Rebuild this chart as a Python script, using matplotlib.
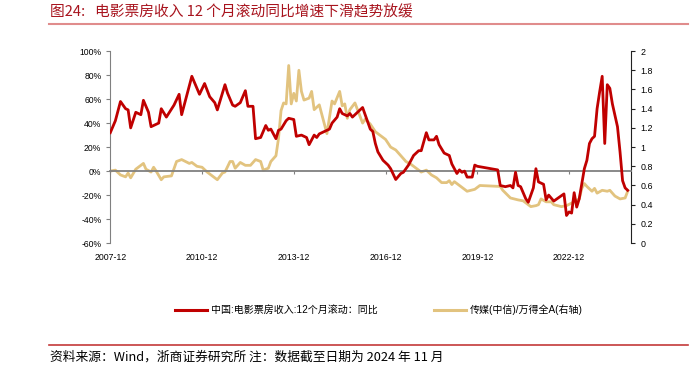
import matplotlib
matplotlib.use("Agg")
import matplotlib.pyplot as plt
from matplotlib.lines import Line2D

plt.rcParams['font.family'] = ['Liberation Sans', 'Noto Sans CJK SC', 'DejaVu Sans']

# month index counted from 2007-12
tick_months = [0, 36, 72, 108, 144, 180]
tick_labels = ['2007-12', '2010-12', '2013-12', '2016-12', '2019-12', '2022-12']

# box office, rolling 12m yoy (%), left axis
red_month = [0, 2, 4, 6, 7, 8, 10, 12, 13, 15,
             16, 18, 19, 20, 22, 25, 27, 28, 30, 32,
             34, 35, 37, 39, 41, 42, 45, 46, 48, 49,
             51, 53, 54, 56, 57, 59, 61, 62, 63, 65,
             66, 67, 69, 70, 72, 73, 75, 77, 78, 80,
             81, 82, 84, 86, 87, 89, 90, 91, 93, 94,
             95, 97, 99, 100, 102, 103, 104, 105, 107, 109,
             110, 112, 114, 115, 117, 119, 121, 122, 124, 125,
             127, 128, 129, 131, 133, 134, 136, 137, 138, 139,
             140, 142, 143, 144, 152, 153, 155, 157, 158, 159,
             160, 161, 163, 164, 166, 167, 168, 170, 171, 172,
             174, 176, 178, 179, 180, 181, 182, 183, 184, 186,
             187, 188, 189, 190, 191, 192, 193, 194, 195, 196,
             197, 199, 200, 201, 202, 203]
red_yoy = [32, 42, 58, 52, 51, 36, 49, 47, 59, 49,
           37, 39, 40, 52, 45, 55, 64, 47, 63, 79,
           69, 64, 73, 62, 57, 51, 72, 65, 55, 54,
           57, 67, 54, 54, 27, 28, 38, 34, 35, 27,
           34, 35, 42, 44, 43, 29, 30, 28, 22, 30,
           28, 31, 33, 35, 40, 45, 52, 48, 46, 48,
           45, 49, 53, 47, 35, 33, 23, 16, 9, 5,
           2, -7, -2, -1, 5, 13, 17, 17, 32, 26,
           26, 29, 22, 15, 13, 6, -2, 1, -1, 0,
           -5, -5, 5, 4, 1, -12, -13, -12, -14, -1,
           -12, -13, -23, -26, -14, 2, -9, -11, -24, -20,
           -25, -22, -19, -37, -34, -35, -18, -30, -23, 2,
           9, 23, 27, 29, 52, 66, 79, 23, 72, 69,
           56, 37, 16, -8, -14, -16]

# media (CITIC) / Wind All A, right axis
gold_month = [0, 2, 4, 6, 7, 8, 10, 13, 14, 16,
              17, 18, 20, 21, 24, 26, 28, 31, 32, 34,
              36, 38, 40, 42, 44, 45, 47, 48, 49, 51,
              53, 55, 57, 59, 60, 62, 63, 65, 66, 67,
              68, 69, 70, 71, 72, 73, 74, 75, 76, 78,
              79, 80, 82, 83, 85, 86, 87, 88, 90, 91,
              92, 93, 94, 96, 97, 99, 100, 102, 104, 105,
              108, 110, 112, 114, 116, 118, 120, 122, 124, 126,
              128, 130, 132, 133, 134, 135, 137, 139, 140, 143,
              145, 153, 154, 157, 160, 162, 165, 167, 168, 169,
              171, 173, 174, 177, 179, 182, 184, 185, 186, 187,
              189, 190, 191, 193, 195, 196, 198, 200, 202, 203]
gold_ratio = [0.75, 0.76, 0.71, 0.69, 0.73, 0.68, 0.77, 0.83, 0.77, 0.74,
              0.79, 0.75, 0.66, 0.69, 0.70, 0.85, 0.87, 0.83, 0.84, 0.80,
              0.79, 0.74, 0.70, 0.66, 0.73, 0.74, 0.85, 0.85, 0.78, 0.84,
              0.81, 0.81, 0.87, 0.85, 0.76, 0.78, 0.85, 0.91, 1.09, 1.38,
              1.46, 1.45, 1.85, 1.45, 1.56, 1.48, 1.80, 1.58, 1.49, 1.51,
              1.58, 1.39, 1.44, 1.34, 1.14, 1.31, 1.48, 1.45, 1.58, 1.43,
              1.45, 1.30, 1.39, 1.46, 1.39, 1.25, 1.29, 1.24, 1.16, 1.14,
              1.08, 1.00, 0.97, 0.91, 0.85, 0.82, 0.78, 0.74, 0.76, 0.71,
              0.68, 0.63, 0.63, 0.65, 0.61, 0.64, 0.60, 0.56, 0.54, 0.56,
              0.60, 0.59, 0.55, 0.47, 0.45, 0.44, 0.38, 0.39, 0.40, 0.46,
              0.43, 0.43, 0.40, 0.38, 0.39, 0.43, 0.46, 0.57, 0.62, 0.59,
              0.54, 0.57, 0.52, 0.55, 0.54, 0.55, 0.49, 0.46, 0.47, 0.54]

RED = '#C00000'
GOLD = '#E2C37F'

fig = plt.figure(figsize=(6.98, 3.65), dpi=100)
ax = fig.add_axes([0.158, 0.334, 0.746, 0.526])
ax2 = ax.twinx()

ax.plot(red_month, red_yoy, c=RED, lw=2.0, zorder=3)
ax2.plot(gold_month, gold_ratio, c=GOLD, lw=2.0)
ax.set_zorder(ax2.get_zorder() + 1)
ax.patch.set_visible(False)

ax.set_xlim(0, 204.3)
ax.set_ylim(-60, 100)
ax.set_yticks(range(-60, 101, 20))
ax.set_yticklabels([f'{v}%' for v in range(-60, 101, 20)])
ax2.set_ylim(0, 2)
ax2.set_yticks([i / 5 for i in range(11)])
ax2.set_yticklabels([f'{i / 5:g}' for i in range(11)])

# x axis line sits at 0%, labels stay at the bottom
ax.spines['bottom'].set_position(('data', 0))
ax.spines['bottom'].set_color('#808080')
ax.spines['bottom'].set_linewidth(1.3)
ax.set_xticks(tick_months)
ax.set_xticklabels(tick_labels)
ax.tick_params(axis='x', length=2, color='#808080', labelsize=6.3, pad=57)
ax.tick_params(axis='y', length=3, color='#808080', labelsize=6.2)
ax.spines['left'].set_color('#808080')
for s in ['top', 'right']:
    ax.spines[s].set_visible(False)
for s in ['top', 'left', 'bottom']:
    ax2.spines[s].set_visible(False)
ax2.spines['right'].set_color('#222222')
ax2.tick_params(axis='y', length=3, color='#222222', labelsize=6.4, pad=4)

handles = [Line2D([], [], c=RED, lw=2.2), Line2D([], [], c=GOLD, lw=2.2)]
labels = ['中国:电影票房收入:12个月滚动：同比', '传媒(中信)/万得全A(右轴)']
fig.legend(handles, labels, loc='center', bbox_to_anchor=(0.543, 0.151), ncol=2,
           frameon=False, fontsize=7.2, handlelength=3.2, columnspacing=5.6,
           handletextpad=0.4)

fig.text(0.072, 0.967, '图24:   电影票房收入 12 个月滚动同比增速下滑趋势放缓',
         color='#A8141E', fontsize=10.6, va='center', ha='left',
         family=['Noto Sans CJK SC', 'DejaVu Sans'])
fig.add_artist(Line2D([0.07, 0.985], [0.934, 0.934], color='#E08C8C', lw=1.5,
                      transform=fig.transFigure))
fig.add_artist(Line2D([0.07, 0.985], [0.055, 0.055], color='#C43A3A', lw=1.2,
                      transform=fig.transFigure))
fig.text(0.072, 0.022, '资料来源：Wind，浙商证券研究所 注：数据截至日期为 2024 年 11 月',
         fontsize=9.2, va='center', ha='left',
         family=['Noto Sans CJK SC', 'DejaVu Sans'])

plt.savefig('out.png', dpi=100)
